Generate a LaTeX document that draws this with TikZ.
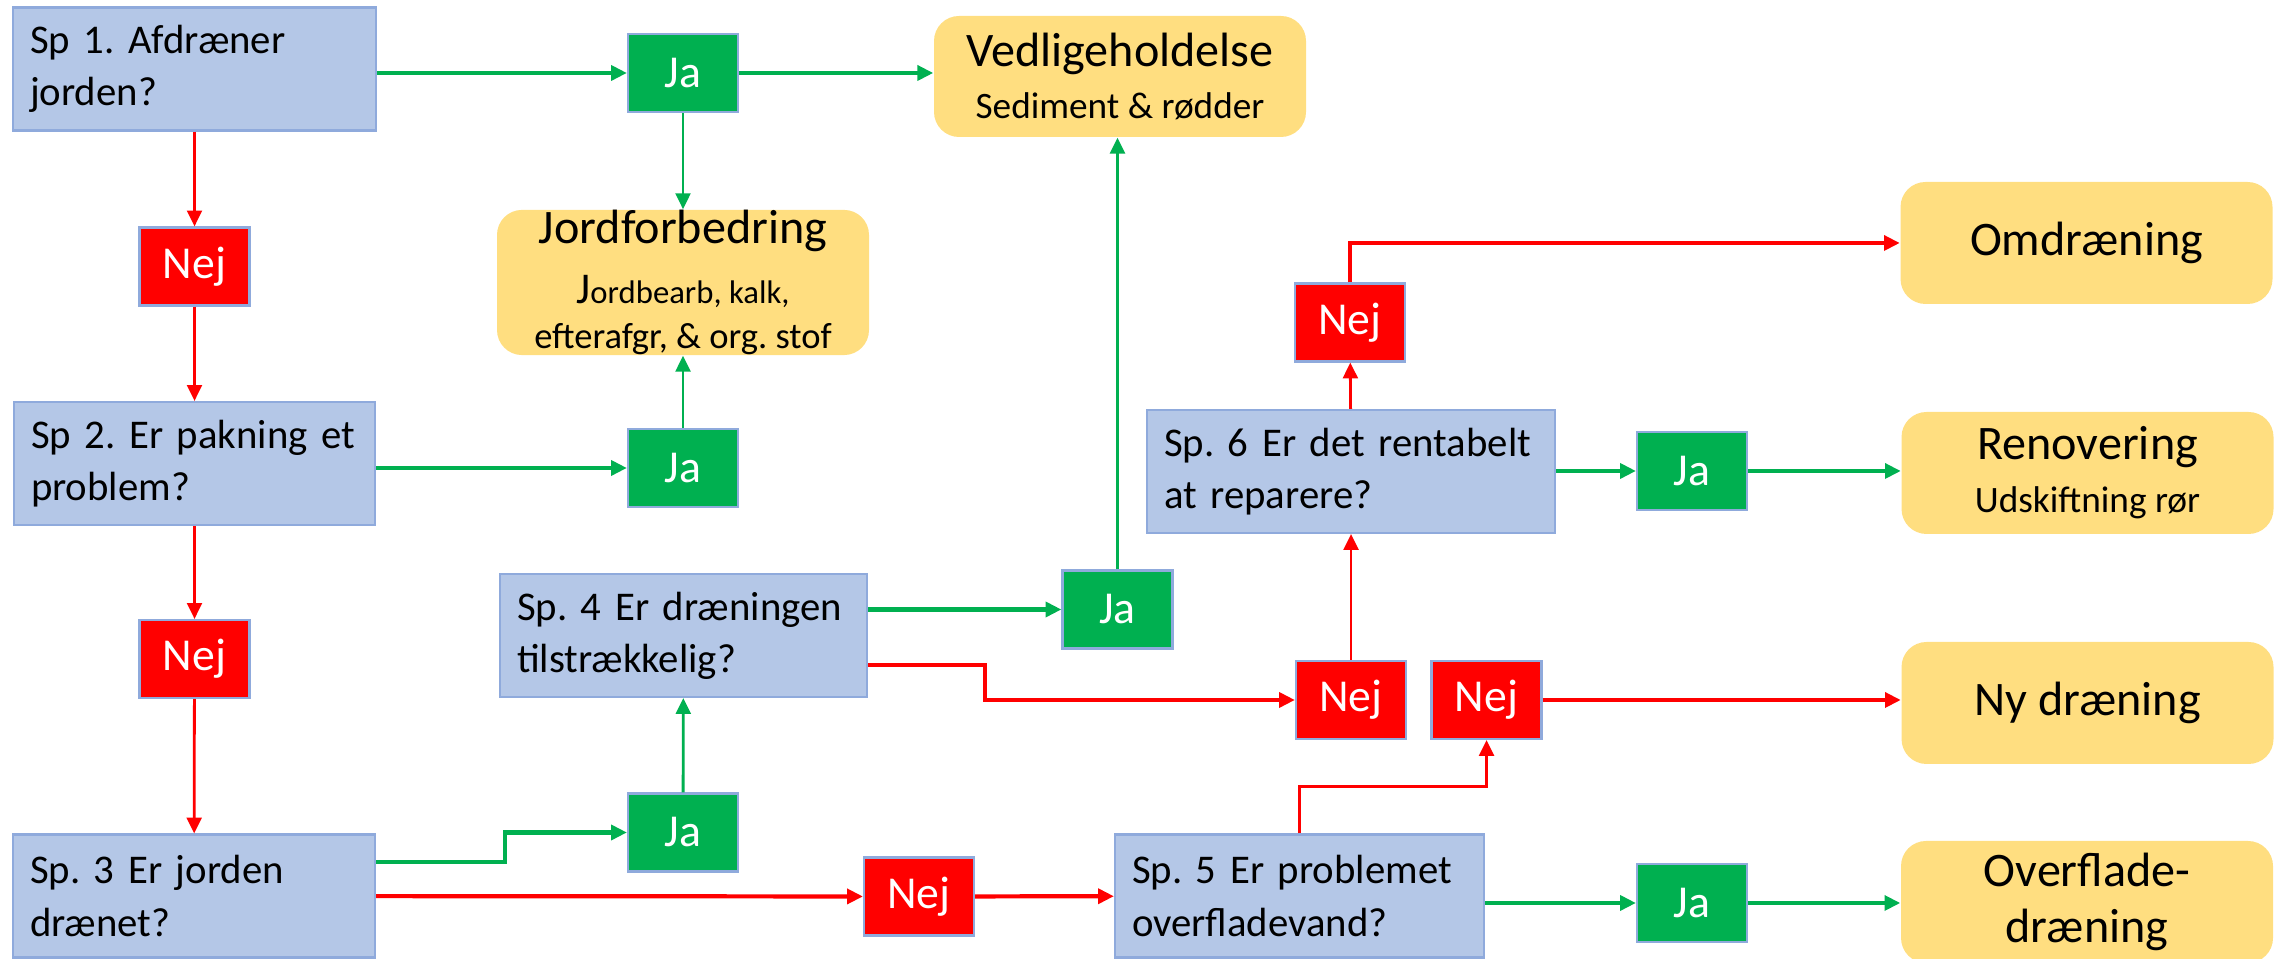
\documentclass[tikz,border=0pt]{standalone}
\usepackage{fontspec}
\setmainfont{Carlito}
\usetikzlibrary{arrows.meta}
\definecolor{qblue}{RGB}{180,199,231}
\definecolor{qedge}{RGB}{143,170,220}
\definecolor{yesgreen}{RGB}{0,176,80}
\definecolor{nored}{RGB}{255,0,0}
\definecolor{outyellow}{RGB}{255,222,128}
\newcommand{\qfont}{\fontsize{11.6}{14.8}\selectfont}
\newcommand{\ansfont}{\fontsize{13}{14}\selectfont}
\newcommand{\outfont}{\fontsize{13.7}{16}\selectfont}
\newcommand{\subfont}{\fontsize{10.6}{12}\selectfont}
\frenchspacing
\hyphenpenalty=10000

\begin{document}
\begin{tikzpicture}[
  qbox/.style={draw=qedge,fill=qblue,line width=0.6pt,inner xsep=0.17cm,minimum height=1.23cm,text width=#1,align=left,font=\qfont},
  yesbox/.style={draw=qedge,fill=yesgreen,line width=0.6pt,minimum width=1.1cm,minimum height=0.78cm,text=white,font=\ansfont},
  nobox/.style={yesbox,fill=nored},
  outbox/.style={fill=outyellow,rounded corners=0.25cm,minimum width=3.72cm,minimum height=1.22cm,align=center,font=\outfont},
  yesline/.style={draw=yesgreen,line width=0.8pt,-{Triangle[length=4.5pt,width=4.2pt]}},
  noline/.style={yesline,draw=nored},
  heavy/.style={line width=1.2pt}]
\useasboundingbox (0,0) rectangle (22.92,9.59);

% questions
\node[qbox=3.29cm] (sp1) at (1.945,8.90) {Sp 1. Afdræner\\jorden?};
\node[qbox=3.27cm] (sp2) at (1.945,4.955) {Sp 2. Er pakning et\\problem?};
\node[qbox=3.28cm] (sp3) at (1.94,0.63) {Sp. 3 Er jorden\\drænet?};
\node[qbox=3.33cm] (sp4) at (6.835,3.235) {Sp. 4 Er dræningen\\tilstrækkelig?};
\node[qbox=3.35cm] (sp5) at (12.995,0.63) {Sp. 5 Er problemet\\overfladevand?};
\node[qbox=3.74cm] (sp6) at (13.51,4.875) {Sp. 6 Er det rentabelt\\at reparere?};

% answers
\node[yesbox] (ja1) at (6.83,8.86) {Ja};
\node[yesbox] (ja2) at (6.83,4.91) {Ja};
\node[yesbox] (ja3) at (6.83,1.265) {Ja};
\node[yesbox] (ja4) at (11.175,3.495) {Ja};
\node[yesbox] (ja5) at (16.92,0.56) {Ja};
\node[yesbox] (ja6) at (16.92,4.88) {Ja};
\node[nobox] (nej1) at (1.945,6.925) {Nej};
\node[nobox] (nej2) at (1.945,3.00) {Nej};
\node[nobox] (nej3) at (9.19,0.625) {Nej};
\node[nobox] (nej4) at (13.51,2.59) {Nej};
\node[nobox] (nej5) at (14.865,2.59) {Nej};
\node[nobox] (nej6) at (13.50,6.365) {Nej};

% outcomes
\node[outbox,minimum height=1.21cm] (vedlig) at (11.20,8.825) {Vedligeholdelse\\[-1pt]{\subfont Sediment \& rødder}};
\node[outbox,minimum height=1.39cm,inner ysep=0pt] (jordf) at (6.83,6.765) {Jordforbedring\\[1pt]{\fontsize{9.3}{11}\selectfont{\fontsize{12.5}{12}\selectfont J}ordbearb, kalk,}\\[-3pt]{\fontsize{10.4}{12}\selectfont efterafgr, \& org. stof}};
\node[outbox] (omdr) at (20.865,7.16) {Omdræning};
\node[outbox] (renov) at (20.875,4.86) {Renovering\\[-1pt]{\subfont Udskiftning rør}};
\node[outbox] (nydr) at (20.875,2.56) {Ny dræning};
\node[outbox] (overfl) at (20.87,0.57) {Overflade-\\dræning};

% yes branches
\draw[yesline,heavy] (sp1.east |- ja1.west) -- (ja1.west);
\draw[yesline,heavy] (ja1.east) -- (ja1.east -| vedlig.west);
\draw[yesline] (ja1) -- (jordf);
\draw[yesline,heavy] (sp2.east |- ja2.west) -- (ja2.west);
\draw[yesline] (ja2) -- (jordf);
\draw[yesline,heavy] ([yshift=0.34cm]sp3.east) -- ++(1.29,0) |- (ja3.west);
\draw[yesline] (ja3) -- (sp4);
\draw[yesline,heavy] (sp4.east |- ja4.west) -- (ja4.west);
\draw[yesline] (ja4.north) -- (ja4.north |- vedlig.south);
\draw[yesline,heavy] (sp6.east |- ja6.west) -- (ja6.west);
\draw[yesline,heavy] (ja6.east) -- (ja6.east -| renov.west);
\draw[yesline,heavy] (sp5.east |- ja5.west) -- (ja5.west);
\draw[yesline,heavy] (ja5.east) -- (ja5.east -| overfl.west);

% no branches
\draw[noline] (sp1) -- (nej1);
\draw[noline] (nej1) -- (sp2);
\draw[noline] (sp2) -- (nej2);
\draw[noline] (nej2) -- (sp3);
\draw[noline,heavy] (sp3) -- (nej3);
\draw[noline,heavy] (nej3) -- (sp5);
\draw[noline,heavy] ([yshift=-0.295cm]sp4.east) -- ++(1.17,0) |- (nej4.west);
\draw[noline] (nej4) -- (sp6);
\draw[noline] (sp6) -- (nej6);
\draw[noline,heavy] (nej6.north) |- (omdr.west);
\draw[noline] (sp5.north) -- ++(0,0.47) -| (nej5.south);
\draw[noline,heavy] (nej5.east) -- (nej5.east -| nydr.west);
\end{tikzpicture}
\end{document}
